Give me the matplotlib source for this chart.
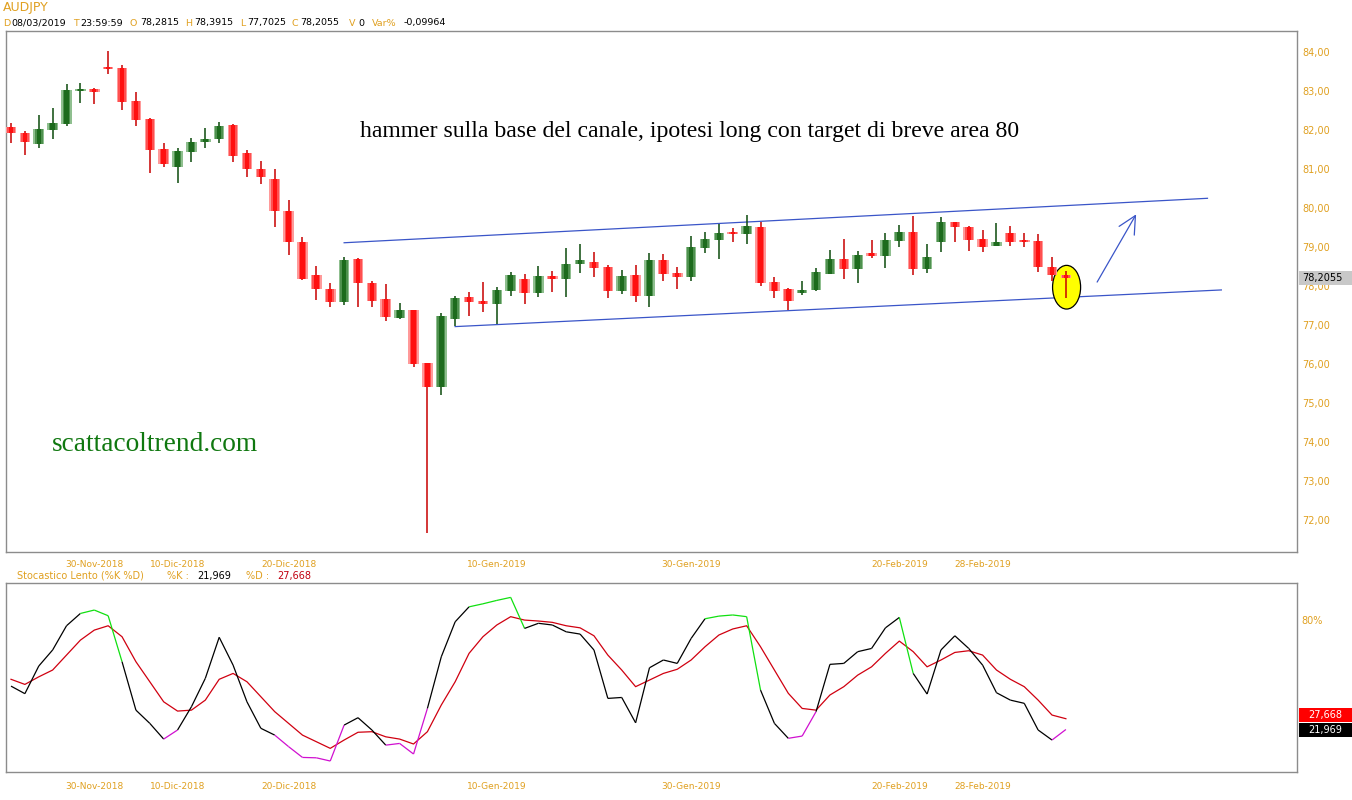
import matplotlib
matplotlib.use('Agg')
import matplotlib.pyplot as plt
import matplotlib.transforms as mtransforms
from matplotlib.patches import Ellipse, Rectangle
from matplotlib.collections import LineCollection

# daily AUDJPY candles (open, high, low, close)
opens = [82.07, 81.92, 81.64, 82.00, 82.15, 83.01, 83.05, 83.59, 83.59, 82.74,
         82.28, 81.51, 81.06, 81.44, 81.69, 81.76, 82.13, 81.42, 81.00, 80.74,
         79.93, 79.14, 78.28, 77.92, 77.60, 78.69, 78.09, 77.67, 77.19, 77.38,
         76.03, 75.40, 77.15, 77.71, 77.62, 77.53, 77.88, 78.17, 77.81, 78.26,
         78.17, 78.56, 78.62, 78.50, 77.88, 78.28, 77.75, 78.68, 78.34, 78.24,
         78.98, 79.18, 79.37, 79.33, 79.52, 78.11, 77.92, 77.81, 77.90, 78.32,
         78.69, 78.44, 78.85, 78.78, 79.15, 79.39, 78.44, 79.12, 79.63, 79.52,
         79.20, 79.03, 79.35, 79.16, 79.15, 78.48, 78.2815]
highs = [82.17, 81.98, 82.38, 82.56, 83.18, 83.20, 83.07, 84.03, 83.67, 82.98,
         82.30, 81.68, 81.53, 81.79, 82.04, 82.20, 82.15, 81.49, 81.21, 81.00,
         80.21, 79.26, 78.51, 78.07, 78.74, 78.71, 78.13, 78.05, 77.56, 77.38,
         76.03, 77.30, 77.74, 77.84, 78.11, 77.98, 78.35, 78.31, 78.51, 78.38,
         78.97, 79.09, 78.88, 78.54, 78.41, 78.53, 78.85, 78.82, 78.48, 79.28,
         79.38, 79.59, 79.48, 79.82, 79.65, 78.22, 77.94, 78.13, 78.47, 78.92,
         79.21, 78.90, 79.18, 79.35, 79.56, 79.79, 79.07, 79.78, 79.65, 79.54,
         79.44, 79.61, 79.55, 79.35, 79.33, 78.74, 78.3915]
lows = [81.66, 81.36, 81.53, 81.77, 82.10, 82.70, 82.67, 83.43, 82.51, 82.10,
        80.89, 81.06, 80.65, 81.19, 81.55, 81.66, 81.19, 80.79, 80.61, 79.52,
        78.79, 78.15, 77.64, 77.47, 77.51, 77.47, 77.47, 77.11, 77.16, 75.93,
        71.66, 75.20, 76.98, 77.23, 77.34, 77.02, 77.75, 77.54, 77.73, 77.85,
        77.71, 78.34, 78.24, 77.70, 77.79, 77.60, 77.47, 78.14, 77.92, 78.14,
        78.84, 78.70, 79.14, 79.07, 78.00, 77.70, 77.38, 77.77, 77.88, 78.30,
        78.18, 78.07, 78.73, 78.47, 78.99, 78.28, 78.34, 78.88, 79.14, 78.91,
        78.88, 79.03, 79.03, 78.99, 78.35, 78.14, 77.7025]
closes = [81.92, 81.70, 82.03, 82.18, 83.03, 83.04, 82.98, 83.56, 82.73, 82.26,
          81.50, 81.13, 81.46, 81.70, 81.77, 82.10, 81.34, 80.99, 80.79, 79.93,
          79.12, 78.18, 77.92, 77.60, 78.67, 78.07, 77.62, 77.21, 77.38, 76.00,
          75.40, 77.23, 77.70, 77.60, 77.53, 77.90, 78.28, 77.81, 78.26, 78.17,
          78.56, 78.67, 78.47, 77.88, 78.26, 77.75, 78.67, 78.32, 78.24, 78.99,
          79.21, 79.35, 79.33, 79.54, 78.09, 77.88, 77.62, 77.90, 78.37, 78.69,
          78.44, 78.79, 78.78, 79.18, 79.39, 78.44, 78.75, 79.63, 79.51, 79.18,
          79.01, 79.12, 79.14, 79.13, 78.48, 78.28, 78.2055]

# slow stochastic %K and %D
stoch_k = [44.9, 40.9, 55.5, 64.0, 76.8, 83.3, 85.1, 82.1, 57.8, 32.2,
           25.2, 16.9, 21.7, 34.0, 49.0, 70.7, 56.0, 36.6, 22.6, 19.0,
           12.9, 7.2, 7.0, 5.3, 24.3, 28.2, 21.7, 13.7, 14.6, 9.0,
           33.1, 60.4, 78.9, 86.8, 88.4, 90.2, 91.8, 75.4, 78.1, 77.2,
           73.6, 72.4, 64.0, 38.4, 38.9, 25.5, 54.6, 58.7, 56.9, 70.1,
           80.5, 81.9, 82.5, 81.6, 42.8, 25.2, 17.3, 18.5, 31.4, 56.4,
           56.9, 63.1, 64.8, 75.7, 81.2, 51.6, 40.7, 64.0, 71.5, 64.8,
           56.0, 41.4, 37.5, 35.8, 21.7, 16.4, 21.969]
stoch_d = [48.5, 45.8, 49.8, 53.4, 61.3, 69.2, 74.5, 76.8, 71.0, 57.8,
           47.2, 36.6, 31.7, 32.2, 37.5, 48.5, 51.6, 47.2, 39.3, 31.4,
           25.2, 19.0, 15.5, 12.0, 16.4, 20.5, 20.8, 18.1, 16.9, 14.3,
           20.8, 34.9, 47.2, 62.2, 71.0, 77.2, 81.6, 79.8, 79.3, 78.6,
           76.8, 75.7, 71.5, 61.3, 53.4, 44.6, 48.1, 51.6, 53.8, 58.7,
           65.7, 71.9, 75.1, 76.8, 65.7, 53.4, 41.1, 33.1, 32.2, 40.2,
           44.6, 50.7, 55.1, 62.2, 68.7, 63.1, 55.1, 58.7, 62.7, 63.6,
           61.3, 53.4, 48.5, 44.6, 37.5, 29.6, 27.668]

date_labels = ['30-Nov-2018', '10-Dic-2018', '20-Dic-2018', '10-Gen-2019',
               '30-Gen-2019', '20-Feb-2019', '28-Feb-2019']
date_bars = [6, 12, 20, 35, 49, 64, 70]

# trend channel (bar index, price) and the target arrow
chan_upper_x = [24.0, 86.2]
chan_upper_y = [79.11, 80.25]
chan_lower_x = [32.0, 87.2]
chan_lower_y = [76.96, 77.90]
arrow_from = (78.15, 78.04)
arrow_to = (81.16, 79.90)

ORANGE = '#e0a020'
FRAME = '#8c8c8c'
BLUE = '#3a55c8'

W, H = 1352, 800
fig = plt.figure(figsize=(W / 100, H / 100), dpi=100)
ax = fig.add_axes([6 / W, 1 - 552 / H, 1291 / W, 521 / H])
ax2 = fig.add_axes([6 / W, 1 - 772 / H, 1291 / W, 189 / H])

n = len(closes)
x = list(range(n))

# candles
for i in range(n):
    o, h, l, c = opens[i], highs[i], lows[i], closes[i]
    up = c > o
    if up:
        wick, shades = '#0c4a0c', ['#8fbf8f', '#4f914f', '#1d6b1d']
    else:
        wick, shades = '#c80000', ['#ff9a9a', '#ff5050', '#ff1010']
    ax.vlines(i, l, h, color=wick, lw=1.1, zorder=3)
    bot = min(o, c)
    hgt = max(abs(c - o), 0.05)
    for w, col in zip([0.76, 0.56, 0.32], shades):
        ax.bar(i, hgt, bottom=bot, width=w, color=col, linewidth=0, zorder=4)

ax.plot(chan_upper_x, chan_upper_y, color=BLUE, lw=0.9, zorder=2)
ax.plot(chan_lower_x, chan_lower_y, color=BLUE, lw=0.9, zorder=2)
ax.add_patch(Ellipse((76.05, 77.97), 2.02, 1.12, facecolor='#ffff00',
                     edgecolor='black', lw=0.9, zorder=2.5))
ax.annotate('', xy=arrow_to, xytext=arrow_from,
            arrowprops=dict(arrowstyle='->,head_length=0.9,head_width=0.45',
                            color=BLUE, lw=0.9, mutation_scale=14))

ax.text(0.5298, 0.808, 'hammer sulla base del canale, ipotesi long con target di breve area 80',
        transform=ax.transAxes, ha='center', va='center', fontsize=17.1,
        family='Liberation Serif', color='black')
ax.text(0.1154, 0.2054, 'scattacoltrend.com', transform=ax.transAxes,
        ha='center', va='center', fontsize=19.7, family='Liberation Serif',
        color='#107810')

ax.set_xlim(-0.36, 92.65)
ax.set_ylim(71.18, 84.54)
ax.yaxis.tick_right()
ax.set_yticks(range(72, 85))
ax.set_yticklabels([f'{v:.2f}'.replace('.', ',') for v in range(72, 85)])
ax.tick_params(axis='y', length=0, pad=4, labelcolor=ORANGE, labelsize=7)
ax.set_xticks(date_bars)
ax.set_xticklabels(date_labels)
ax.tick_params(axis='x', length=0, pad=6, labelcolor=ORANGE, labelsize=6.5)

# last price tag
tr = mtransforms.blended_transform_factory(ax.transAxes, ax.transData)
ax.add_patch(Rectangle((1.0015, closes[-1] - 0.17), 0.041, 0.35, transform=tr,
                       facecolor='#c8c8c8', edgecolor='none', clip_on=False, zorder=5))
ax.text(1.004, closes[-1] + 0.01, f'{closes[-1]:.4f}'.replace('.', ','), transform=tr,
        ha='left', va='center', fontsize=7, color='black', zorder=6)

# stochastic panel
ax2.plot(x, stoch_d, color='#d00010', lw=0.9, zorder=2)
segs = [[(i, stoch_k[i]), (i + 1, stoch_k[i + 1])] for i in range(n - 1)]
cols = []
for i in range(n - 1):
    if stoch_k[i] > 80:
        cols.append('#10e010')
    elif stoch_k[i] < 20:
        cols.append('#d010d0')
    else:
        cols.append('black')
ax2.add_collection(LineCollection(segs, colors=cols, linewidths=0.9, zorder=3))

ax2.set_xlim(-0.36, 92.65)
ax2.set_ylim(-0.5, 99.4)
ax2.yaxis.tick_right()
ax2.set_yticks([80])
ax2.set_yticklabels(['80%'])
ax2.tick_params(axis='y', length=0, pad=3, labelcolor=ORANGE, labelsize=7)
ax2.set_xticks(date_bars)
ax2.set_xticklabels(date_labels)
ax2.tick_params(axis='x', length=0, pad=7, labelcolor=ORANGE, labelsize=6.5)

tr2 = mtransforms.blended_transform_factory(ax2.transAxes, ax2.transData)
for val, ypos, face in [(stoch_d[-1], 29.6, '#ff0000'), (stoch_k[-1], 21.7, 'black')]:
    ax2.add_patch(Rectangle((1.0015, ypos - 3.7), 0.041, 7.4, transform=tr2,
                            facecolor=face, edgecolor='none', clip_on=False, zorder=5))
    ax2.text(1.0215, ypos, f'{val:.3f}'.replace('.', ','), transform=tr2,
             ha='center', va='center', fontsize=7, color='white', zorder=6)

for a in (ax, ax2):
    for s in a.spines.values():
        s.set_color(FRAME)
        s.set_linewidth(1)

# header lines
def ftext(px, py, s, color, size=7):
    fig.text(px / W, 1 - py / H, s, color=color, fontsize=size, ha='left', va='center')

ftext(3, 8, 'AUDJPY', ORANGE, 9)
header = [(3, 'D', ORANGE), (11, '08/03/2019', 'black'), (73, 'T', ORANGE),
          (80, '23:59:59', 'black'), (130, 'O', ORANGE), (140, '78,2815', 'black'),
          (185, 'H', ORANGE), (194, '78,3915', 'black'), (240, 'L', ORANGE),
          (247, '77,7025', 'black'), (292, 'C', ORANGE), (300, '78,2055', 'black'),
          (349, 'V', ORANGE), (358, '0', 'black'), (372, 'Var%', ORANGE),
          (404, '-0,09964', 'black')]
for px, s, col in header:
    ftext(px, 23, s, col, 6.8)

stoch_head = [(17, 'Stocastico Lento (%K %D)', ORANGE), (167, '%K :', ORANGE),
              (197, '21,969', 'black'), (246, '%D :', ORANGE), (277, '27,668', '#c00010')]
for px, s, col in stoch_head:
    ftext(px, 576, s, col)

fig.savefig('out.png', dpi=100, facecolor='white')
